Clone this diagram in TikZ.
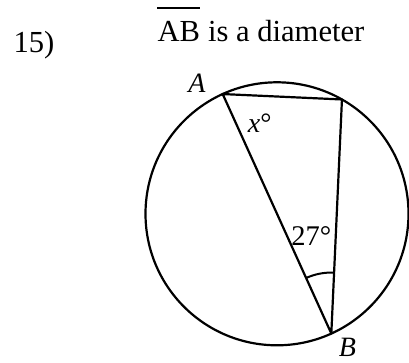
\documentclass[tikz,border=0pt]{standalone}
\usepackage{fontspec}
\setmainfont{Liberation Serif}
\usetikzlibrary{calc}
\begin{document}
\begin{tikzpicture}[x=1pt,y=1pt,
  geo/.style={line width=2.2pt},
  big/.style={inner sep=0pt,font=\fontsize{30.6}{36}\selectfont},
  lbl/.style={inner sep=0pt,font=\fontsize{28}{34}\selectfont\itshape},
  num/.style={inner sep=0pt,font=\fontsize{28.5}{34}\selectfont}]
\useasboundingbox (0,0) rectangle (409,362);
\coordinate (O) at (277,148.2);
\coordinate (A) at ($(O)+(114.4:131.5)$);
\coordinate (B) at ($(O)+(-65.6:131.5)$);
\coordinate (C) at ($(O)+(60.4:131.5)$);
% circle and triangle
\draw[geo] (O) circle[radius=131.5];
\draw[geo,line join=round] (A) -- (C) -- (B) -- cycle;
% angle mark at B
\draw[line width=2pt] ($(B)+(87.4:61)$) arc[start angle=87.4,end angle=114.4,radius=61];
% texts
\node[big,anchor=base west] (num15) at (13.3,309.7) {15)};
\node[big,anchor=base west] (ab) at (157.3,320.3) {AB};
\node[big,anchor=base west] (rest) at ([xshift=7.6pt]ab.base east) {is a diameter};
\draw[line width=2pt] ([yshift=13pt]ab.north west) -- ([yshift=13pt]ab.north east);
\node[lbl,anchor=base] (la) at (197,269.7) {A};
\node[lbl,anchor=base] (lb) at (347.5,5.5) {B};
\node[lbl,anchor=base west] (lx) at (247.7,229.7) {x\upshape°};
\node[num,anchor=base west] (l27) at (291.2,116.3) {27°};
\end{tikzpicture}
\end{document}
